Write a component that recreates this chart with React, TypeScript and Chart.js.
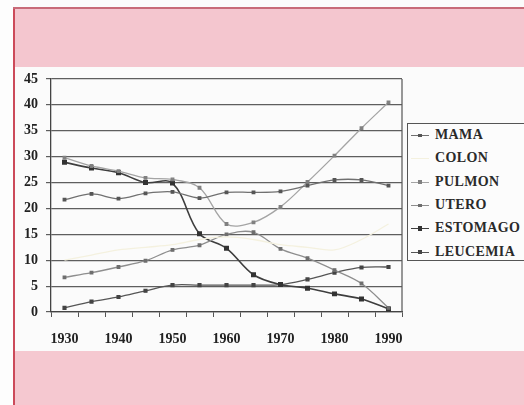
import React, { useEffect, useRef } from 'react';
import { Chart, registerables } from 'chart.js';

Chart.register(...registerables);

const years = ['1930', '1935', '1940', '1945', '1950', '1955', '1960', '1965', '1970', '1975', '1980', '1985', '1990'];
const yTicks = [0, 5, 10, 15, 20, 25, 30, 35, 40, 45];

const mama = [21.7, 22.8, 21.9, 22.9, 23.2, 22.0, 23.1, 23.1, 23.3, 24.4, 25.5, 25.5, 24.4];
const colon = [10.0, 11.0, 12.0, 12.5, 13.0, 14.0, 14.5, 14.0, 13.0, 12.5, 12.0, 14.0, 17.0];
const pulmon = [29.8, 28.2, 27.2, 25.9, 25.6, 24.0, 17.0, 17.3, 20.3, 25.1, 30.2, 35.5, 40.5];
const utero = [6.7, 7.6, 8.7, 9.9, 12.0, 12.9, 15.0, 15.4, 12.2, 10.4, 8.1, 5.5, 0.8];
const estomago = [28.9, 27.8, 26.9, 25.0, 24.9, 15.1, 12.3, 7.2, 5.3, 4.6, 3.5, 2.5, 0.6];
const leucemia = [0.8, 2.0, 2.9, 4.1, 5.2, 5.2, 5.2, 5.2, 5.3, 6.3, 7.6, 8.6, 8.7];

const seriesNames = ['MAMA', 'COLON', 'PULMON', 'UTERO', 'ESTOMAGO', 'LEUCEMIA'];
const seriesData = [mama, colon, pulmon, utero, estomago, leucemia];
const seriesColors = ['#707070', '#f4f1df', '#a4a4a4', '#8e8e8e', '#3e3e3e', '#555555'];
const markerColors = ['#555555', '#f4f1df', '#808080', '#6e6e6e', '#333333', '#444444'];
const markerSizes = [1.8, 0, 1.8, 1.8, 2.4, 2];

const SERIF = "'Liberation Serif', 'DejaVu Serif', serif";

const framePlugin = {
  id: 'frame',
  afterDraw(chart: any) {
    const { ctx, chartArea } = chart;
    ctx.save();
    ctx.strokeStyle = '#555';
    ctx.lineWidth = 1.2;
    ctx.beginPath();
    ctx.moveTo(chartArea.right, chartArea.top);
    ctx.lineTo(chartArea.right, chartArea.bottom);
    ctx.stroke();
    ctx.restore();
  },
};

export default function App() {
  const ref = useRef<HTMLCanvasElement | null>(null);

  useEffect(() => {
    document.body.style.margin = '0';
    if (!ref.current) return;
    const chart = new Chart(ref.current, {
      type: 'line',
      data: {
        labels: years,
        datasets: seriesNames.map((name, i) => ({
          label: name,
          data: seriesData[i],
          borderColor: seriesColors[i],
          backgroundColor: markerColors[i],
          pointBackgroundColor: markerColors[i],
          pointBorderColor: markerColors[i],
          pointStyle: 'rect',
          pointRadius: markerSizes[i],
          borderWidth: i === 4 ? 1.6 : 1.3,
          tension: 0.35,
          fill: false,
        })),
      },
      options: {
        responsive: false,
        animation: false,
        layout: { padding: { left: 0, top: 79, right: 122, bottom: 0 } },
        plugins: {
          legend: { display: false },
          tooltip: { enabled: false },
        },
        scales: {
          x: {
            type: 'category',
            offset: true,
            afterFit: (s: any) => {
              s.height = 93;
            },
            grid: {
              offset: true,
              drawOnChartArea: false,
              drawTicks: true,
              tickLength: 5,
              color: '#555',
            },
            border: { color: '#444', width: 1.3 },
            ticks: {
              autoSkip: false,
              maxRotation: 0,
              minRotation: 0,
              padding: 14,
              color: '#222',
              font: { family: SERIF, size: 14, weight: 'bold' },
              callback: (_v: any, idx: number) => (idx % 2 === 0 ? years[idx] : ''),
            },
          },
          y: {
            min: yTicks[0],
            max: yTicks[yTicks.length - 1],
            afterFit: (s: any) => {
              s.width = 51;
            },
            afterBuildTicks: (s: any) => {
              s.ticks = yTicks.map((v) => ({ value: v }));
            },
            grid: {
              color: '#5e5e5e',
              lineWidth: 1.2,
              drawTicks: true,
              tickLength: 5,
            },
            border: { color: '#444', width: 1.3 },
            ticks: {
              padding: 8,
              color: '#222',
              font: { family: SERIF, size: 14, weight: 'bold' },
            },
          },
        },
      },
      plugins: [framePlugin],
    });
    return () => chart.destroy();
  }, []);

  return (
    <div style={{ position: 'relative', width: 524, height: 405, background: '#fbfbfb', overflow: 'hidden' }}>
      <div style={{ position: 'absolute', left: 0, top: 0, width: 13, height: 405, background: '#fdfdfd' }} />
      <div style={{ position: 'absolute', left: 13, top: 8, width: 2, height: 397, background: '#cc4a5a' }} />
      <div style={{ position: 'absolute', left: 13, top: 7, width: 511, height: 2, background: '#c86a78' }} />
      <div style={{ position: 'absolute', left: 15, top: 9, width: 509, height: 58, background: '#f4c6cf' }} />
      <div style={{ position: 'absolute', left: 15, top: 351, width: 509, height: 54, background: '#f5c8d0' }} />
      <canvas ref={ref} width={524} height={405} style={{ position: 'absolute', left: 0, top: 0 }} />
      <div
        style={{
          position: 'absolute',
          left: 407,
          top: 123,
          width: 120,
          height: 138,
          border: '1px solid #555',
          borderRight: 'none',
          background: '#fcfcfc',
          boxSizing: 'border-box',
        }}
      >
        {seriesNames.map((name, i) => (
          <div key={name} style={{ position: 'absolute', left: 0, top: 1 + i * 23.3, height: 20, width: 120 }}>
            <div
              style={{
                position: 'absolute',
                left: 3,
                top: 10,
                width: 18,
                height: 0,
                borderTop: `1.3px solid ${seriesColors[i]}`,
              }}
            />
            {markerSizes[i] > 0 && (
              <div
                style={{
                  position: 'absolute',
                  left: 12 - markerSizes[i],
                  top: 10.6 - markerSizes[i],
                  width: markerSizes[i] * 2,
                  height: markerSizes[i] * 2,
                  background: markerColors[i],
                }}
              />
            )}
            <span
              style={{
                position: 'absolute',
                left: 27,
                top: 2,
                fontFamily: SERIF,
                fontWeight: 'bold',
                fontSize: 14,
                letterSpacing: 0.4,
                color: '#2a2a2a',
                whiteSpace: 'nowrap',
                lineHeight: '16px',
              }}
            >
              {name}
            </span>
          </div>
        ))}
      </div>
    </div>
  );
}
